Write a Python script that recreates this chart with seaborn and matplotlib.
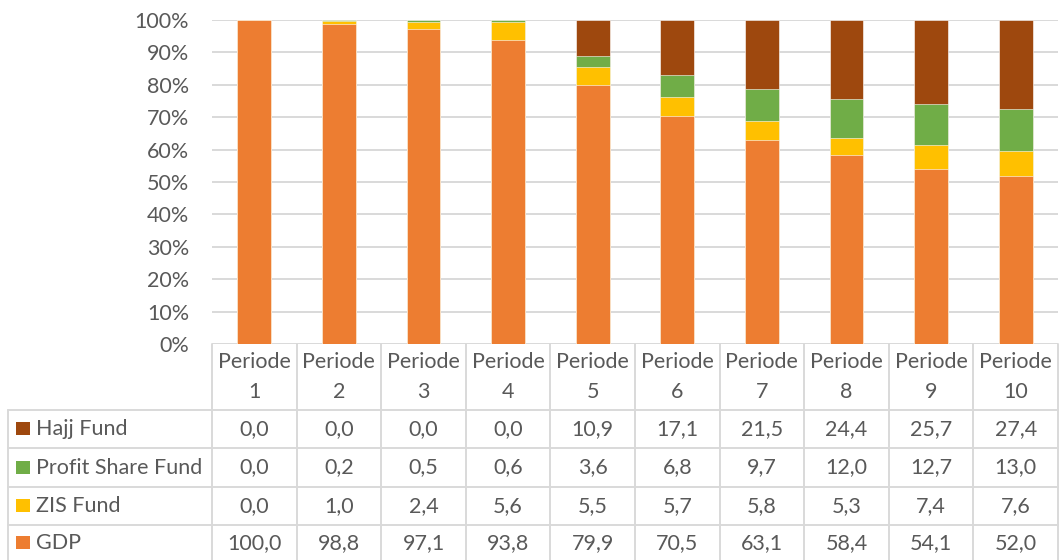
import matplotlib
matplotlib.use("Agg")
import matplotlib.pyplot as plt
from matplotlib.transforms import blended_transform_factory
from matplotlib.lines import Line2D
from matplotlib.patches import Rectangle
import numpy as np
import pandas as pd
import seaborn as sns

# ---- data -------------------------------------------------------------
periods = ["Periode\n1", "Periode\n2", "Periode\n3", "Periode\n4", "Periode\n5",
           "Periode\n6", "Periode\n7", "Periode\n8", "Periode\n9", "Periode\n10"]
gdp = [100.0, 98.8, 97.1, 93.8, 79.9, 70.5, 63.1, 58.4, 54.1, 52.0]
zis_fund = [0.0, 1.0, 2.4, 5.6, 5.5, 5.7, 5.8, 5.3, 7.4, 7.6]
profit_share_fund = [0.0, 0.2, 0.5, 0.6, 3.6, 6.8, 9.7, 12.0, 12.7, 13.0]
hajj_fund = [0.0, 0.0, 0.0, 0.0, 10.9, 17.1, 21.5, 24.4, 25.7, 27.4]
y_ticks = [0, 10, 20, 30, 40, 50, 60, 70, 80, 90, 100]

series = [("GDP", gdp, "#ED7D31"),
          ("ZIS Fund", zis_fund, "#FFC000"),
          ("Profit Share Fund", profit_share_fund, "#70AD47"),
          ("Hajj Fund", hajj_fund, "#9E480E")]

# ---- style ------------------------------------------------------------
sns.set_style("white")
plt.rcParams["font.family"] = ["Lato", "DejaVu Sans"]
TXT = "#595959"
GRID = "#D9D9D9"
FS = 15.5

W, H = 1059, 560
fig = plt.figure(figsize=(W / 100, H / 100), dpi=100)

# plot area in pixel layout
L, R, T, B = 212, 1058, 20, 344
ax = fig.add_axes([L / W, 1 - B / H, (R - L) / W, (B - T) / H])

# stacked bars: draw cumulative totals from the top layer down
df = pd.DataFrame({"period": periods})
cum = np.zeros(len(periods))
cums = []
for name, vals, color in series:
    cum = cum + np.array(vals)
    cums.append((name, np.minimum(cum, 100.0), color))
for name, top, color in reversed(cums):
    df["v"] = top
    sns.barplot(data=df, x="period", y="v", color=color, width=0.40,
                saturation=1, edgecolor="white", linewidth=0.4, ax=ax, zorder=3)

ax.set_xlim(-0.5, len(periods) - 0.5)
ax.set_ylim(0, 100)
ax.set_yticks(y_ticks)
ax.set_yticklabels([f"{t}%" for t in y_ticks], color=TXT, fontsize=FS)
ax.tick_params(axis="y", length=0, pad=16.5)
ax.tick_params(axis="x", length=0, labelbottom=False)
ax.set_xlabel("")
ax.set_ylabel("")
for s in ax.spines.values():
    s.set_visible(False)
ax.yaxis.grid(True, color=GRID, linewidth=1.4, zorder=0)
ax.set_axisbelow(True)

# ---- data table -------------------------------------------------------
tab = fig.add_axes([0, 0, 1, 1], zorder=-1)
tab.set_xlim(0, W)
tab.set_ylim(H, 0)
tab.axis("off")
tr = blended_transform_factory(ax.transData, tab.transData)

n = len(periods)
header_top, header_bot = B, 410
row_edges = [410, 448, 487, 525, 563]
left_edge = 8
lw_tab = 1.4

# vertical column lines
for i in range(n + 1):
    fig.add_artist(Line2D([i - 0.5, i - 0.5], [header_top, H], transform=tr,
                          color=GRID, lw=lw_tab))
tab.plot([left_edge, left_edge], [header_bot, H], color=GRID, lw=lw_tab)
# horizontal row lines
for y in row_edges[:-1]:
    tab.plot([left_edge, L], [y, y], color=GRID, lw=lw_tab)
    fig.add_artist(Line2D([-0.5, n - 0.5], [y, y], transform=tr,
                          color=GRID, lw=lw_tab))

# header labels
for i, p in enumerate(periods):
    first, second = p.split("\n")
    fig.text(i, 362, first, transform=tr, ha="center", va="center",
             fontsize=FS, color=TXT)
    fig.text(i, 392, second, transform=tr, ha="center", va="center",
             fontsize=FS, color=TXT)

# table rows: top row is the last series
rows = list(reversed(series))
for r, (name, vals, color) in enumerate(rows):
    yc = (row_edges[r] + row_edges[r + 1]) / 2
    if r == len(rows) - 1:
        yc = 543
    tab.add_patch(Rectangle((16, yc - 7), 14, 13, facecolor=color,
                            edgecolor="none"))
    tab.text(36, yc, name, ha="left", va="center", fontsize=FS, color=TXT)
    for i, v in enumerate(vals):
        fig.text(i, yc, f"{v:.1f}".replace(".", ","), transform=tr,
                 ha="center", va="center", fontsize=FS, color=TXT)

fig.savefig("out.png", dpi=100)
